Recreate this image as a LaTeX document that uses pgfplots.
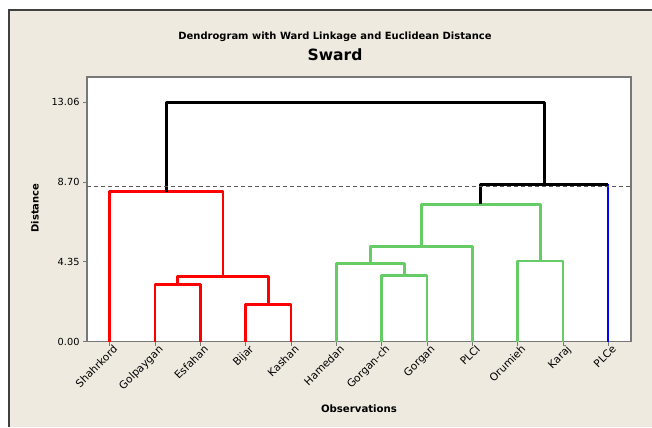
\documentclass[border=0pt]{standalone}
\usepackage{fontspec}
\setmainfont{DejaVu Sans}
\usepackage{pgfplots}
\pgfplotsset{compat=1.18}
\definecolor{panel}{RGB}{238,234,224}
\definecolor{framegray}{RGB}{120,120,120}
\definecolor{clgreen}{RGB}{102,204,102}
\definecolor{cutgray}{RGB}{90,90,90}
\begin{document}
\begin{tikzpicture}[x=1bp,y=1bp]
\useasboundingbox (0,0) rectangle (652,427);
\fill[white] (0,0) rectangle (652,427);
\fill[panel] (9,0) rectangle (652,417);
\draw[line width=1.3bp, black!75] (9,0) -- (9,417) -- (652,417);
\node[font=\bfseries\fontsize{10}{12}\selectfont] at (335,390) {Dendrogram with Ward Linkage and Euclidean Distance};
\node[font=\bfseries\fontsize{15.6}{18}\selectfont] at (335,372) {Sward};
\node[font=\bfseries\fontsize{10.2}{12}\selectfont] at (359,18) {Observations};
\node[font=\bfseries\fontsize{10}{12}\selectfont, rotate=90] at (35,219) {Distance};
\begin{axis}[
  at={(87bp,85.5bp)}, anchor=south west,
  scale only axis, width=544bp, height=264.5bp,
  xmin=0.5, xmax=12.5, ymin=0, ymax=14.44,
  axis background/.style={fill=white},
  axis line style={framegray, line width=1.1bp},
  tick style={framegray, line width=0.8bp},
  tick align=outside, major tick length=4bp,
  xtick={1,...,12},
  xticklabels={Shahrkord,Golpaygan,Esfahan,Bijar,Kashan,Hamedan,Gorgan-ch,Gorgan,PLCI,Orumieh,Karaj,PLCe},
  xticklabel style={font=\fontsize{10.6}{12}\selectfont, rotate=45, anchor=north east, inner sep=1bp, xshift=4bp},
  xtick pos=bottom, ytick pos=left,
  ytick={0,4.35,8.70,13.06},
  yticklabels={0.00,4.35,8.70,13.06},
  yticklabel style={font=\fontsize{9.8}{11}\selectfont},
  clip=false,
]
% red cluster
\addplot[red, line width=2.8bp, line join=round] coordinates {(2,0)(2,3.11)(3,3.11)(3,0)};
\addplot[red, line width=2.8bp, line join=round] coordinates {(4,0)(4,2.02)(5,2.02)(5,0)};
\addplot[red, line width=2.8bp, line join=round] coordinates {(2.5,3.11)(2.5,3.57)(4.5,3.57)(4.5,2.02)};
\addplot[red, line width=2.8bp, line join=round] coordinates {(1,0)(1,8.17)(3.5,8.17)(3.5,3.57)};
% green cluster
\addplot[clgreen, line width=2.8bp, line join=round] coordinates {(7,0)(7,3.62)(8,3.62)(8,0)};
\addplot[clgreen, line width=2.8bp, line join=round] coordinates {(6,0)(6,4.26)(7.5,4.26)(7.5,3.62)};
\addplot[clgreen, line width=2.8bp, line join=round] coordinates {(6.75,4.26)(6.75,5.17)(9,5.17)(9,0)};
\addplot[clgreen, line width=2.8bp, line join=round] coordinates {(10,0)(10,4.39)(11,4.39)(11,0)};
\addplot[clgreen, line width=2.8bp, line join=round] coordinates {(7.875,5.17)(7.875,7.49)(10.5,7.49)(10.5,4.39)};
% blue singleton
\addplot[blue, line width=1.9bp] coordinates {(12,0)(12,8.58)};
% upper joins
\addplot[black, line width=2.8bp, line join=round] coordinates {(9.1875,7.49)(9.1875,8.58)(12,8.58)};
\addplot[black, line width=2.8bp, line join=round] coordinates {(2.25,8.17)(2.25,13.06)(10.59375,13.06)(10.59375,8.58)};
% cut line
\addplot[cutgray, line width=0.9bp, dash pattern=on 4bp off 3bp] coordinates {(0.5,8.48)(12.5,8.48)};
\end{axis}
\end{tikzpicture}
\end{document}
